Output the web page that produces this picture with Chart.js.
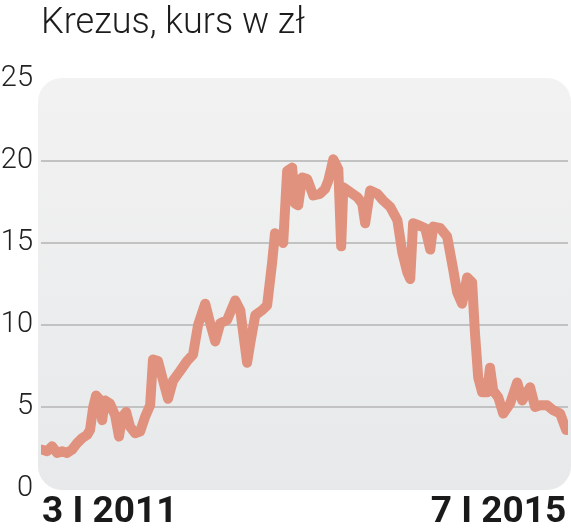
<!DOCTYPE html>
<html>
<head>
<meta charset="utf-8">
<script src="https://cdn.jsdelivr.net/npm/chart.js@4"></script>
<style>
  body { margin: 0; background: #fff; }
  canvas { display: block; }
</style>
</head>
<body>
<canvas id="krezusChart" width="571" height="532"></canvas>
<script>
// Krezus share price in zł, days counted from 3 I 2011
const days = [0, 14, 28, 42, 56, 70, 84, 98, 112, 126, 134, 143, 151, 159, 168, 176, 190, 204, 215, 224,
  235, 246, 260, 274, 288, 302, 310, 324, 336, 352, 366, 386, 405, 422, 436, 456, 470, 484, 498, 517,
  540, 554, 573, 582, 596, 615, 629, 643, 651, 665, 674, 685, 699, 707, 716, 727, 741, 758, 777, 791,
  800, 814, 828, 836, 842, 861, 881, 895, 903, 917, 937, 953, 973, 993, 1007, 1021, 1029, 1037, 1051, 1071,
  1085, 1093, 1113, 1132, 1149, 1160, 1174, 1188, 1202, 1210, 1219, 1230, 1244, 1252, 1261, 1275, 1289, 1308, 1328, 1342,
  1364, 1378, 1392, 1412, 1429, 1448, 1465];
const prices = [2.4, 2.3, 2.6, 2.2, 2.3, 2.2, 2.4, 2.8, 3.1, 3.3, 3.6, 5.0, 5.7, 5.5, 4.2, 5.4, 5.2, 4.5, 3.2, 4.4,
  4.7, 3.8, 3.4, 3.5, 4.4, 5.1, 7.9, 7.8, 6.8, 5.5, 6.6, 7.2, 7.8, 8.2, 10.0, 11.3, 10.1, 9.0, 10.1, 10.3,
  11.5, 10.9, 7.7, 8.9, 10.6, 10.9, 11.2, 13.8, 15.6, 15.3, 15.0, 19.4, 19.6, 17.4, 17.3, 19.0, 18.9, 17.9, 18.0, 18.3,
  18.8, 20.1, 19.5, 14.8, 18.4, 18.1, 17.8, 17.4, 16.2, 18.2, 18.0, 17.6, 17.2, 16.4, 14.4, 13.2, 12.8, 16.2, 16.1, 15.9,
  14.6, 16.0, 15.9, 15.4, 13.4, 12.0, 11.3, 12.9, 12.6, 9.5, 6.8, 5.9, 5.9, 7.4, 6.0, 5.6, 4.6, 5.2, 6.5, 5.4,
  6.2, 5.0, 5.1, 5.1, 4.8, 4.6, 3.6];

const xTickDays = [0, 1465];
const xLabels = ['3 I 2011', '7 I 2015'];
const title = 'Krezus, kurs w zł';

// rounded grey panel behind the plot + title text
const panelPlugin = {
  id: 'panel',
  beforeDraw(chart) {
    const { ctx, chartArea: a } = chart;
    const g = ctx.createLinearGradient(0, a.top, 0, a.bottom);
    g.addColorStop(0, '#f2f2f2');
    g.addColorStop(1, '#e7e9ea');
    ctx.save();
    ctx.fillStyle = g;
    ctx.beginPath();
    ctx.roundRect(a.left - 3, a.top - 1, a.right - a.left + 6, a.bottom - a.top + 2, 24);
    ctx.fill();
    ctx.restore();
  },
  afterDraw(chart) {
    const ctx = chart.ctx;
    ctx.save();
    ctx.font = '300 36px Roboto';
    ctx.fillStyle = '#1c1c1c';
    ctx.textBaseline = 'alphabetic';
    ctx.fillText(title, 41, 33);
    ctx.restore();
  }
};

const ctx = document.getElementById('krezusChart').getContext('2d');
new Chart(ctx, {
  type: 'line',
  data: {
    datasets: [{
      data: days.map((d, i) => ({ x: d, y: prices[i] })),
      borderColor: '#e0927e',
      borderWidth: 10,
      borderCapStyle: 'round',
      borderJoinStyle: 'round',
      pointRadius: 0,
      tension: 0,
      fill: false
    }]
  },
  plugins: [panelPlugin],
  options: {
    responsive: false,
    animation: false,
    layout: { padding: { top: 79, right: 3, left: 0, bottom: 0 } },
    plugins: {
      legend: { display: false },
      tooltip: { enabled: false }
    },
    scales: {
      x: {
        type: 'linear',
        min: -3,
        max: 1470,
        afterBuildTicks: axis => { axis.ticks = xTickDays.map(v => ({ value: v })); },
        afterFit: axis => { axis.height = 43; },
        ticks: {
          callback: v => xLabels[xTickDays.indexOf(v)],
          align: 'inner',
          autoSkip: false,
          maxRotation: 0,
          padding: -6,
          color: '#1a1a1a',
          font: { family: 'Roboto', size: 37, weight: 'bold' }
        },
        grid: { display: false },
        border: { display: false }
      },
      y: {
        min: 0,
        max: 25,
        afterFit: axis => { axis.width = 41; },
        ticks: {
          stepSize: 5,
          padding: 8,
          color: '#222',
          font: { family: 'Roboto', size: 29, weight: 300 }
        },
        grid: {
          drawTicks: false,
          lineWidth: 2,
          color: c => (c.tick.value === 0 || c.tick.value === 25) ? 'rgba(0,0,0,0)' : '#c2c2c2'
        },
        border: { display: false }
      }
    }
  }
});
</script>
</body>
</html>
